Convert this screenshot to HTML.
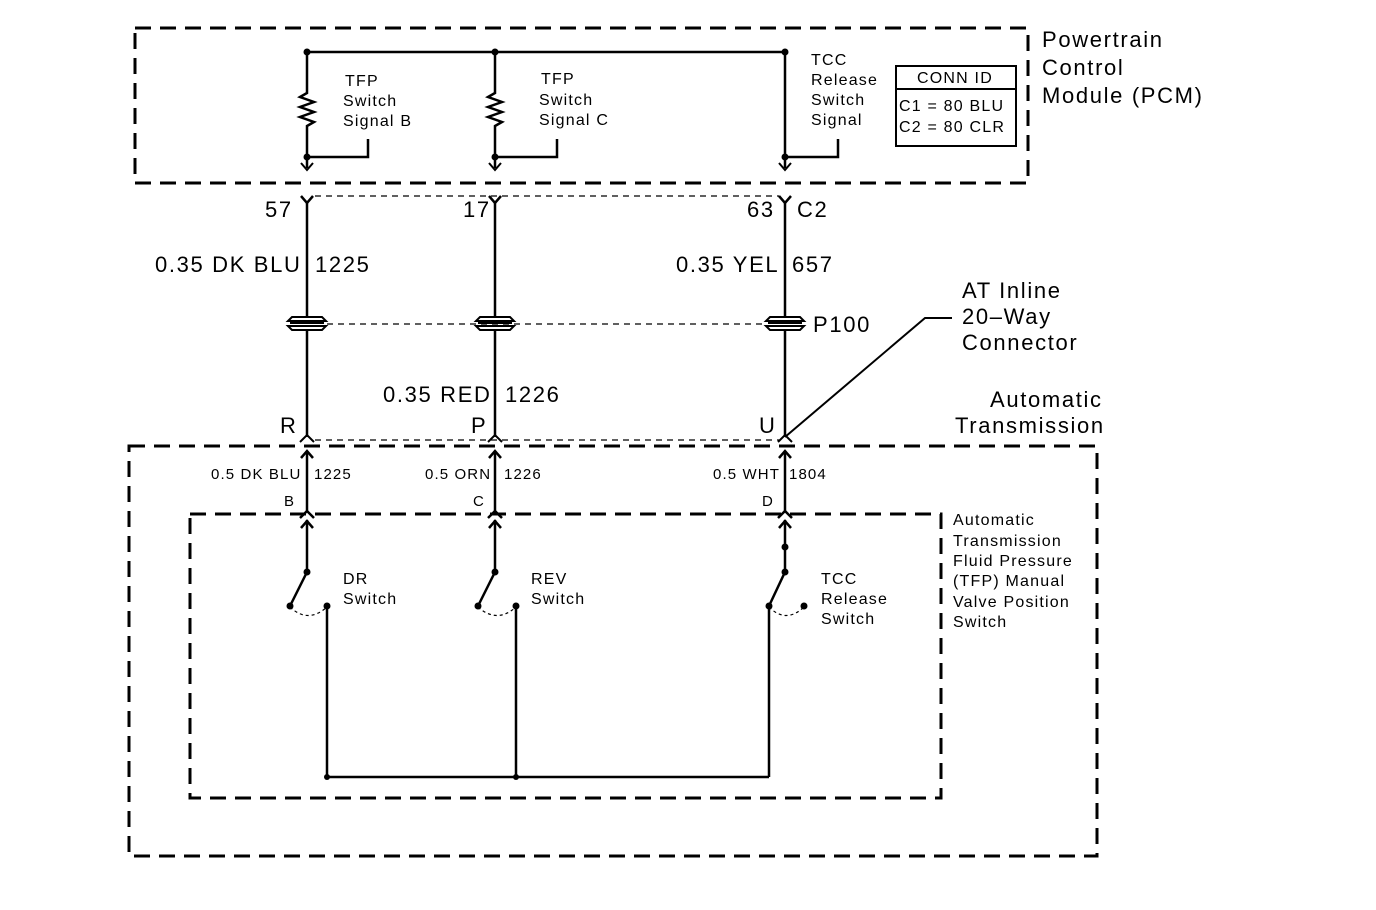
<!DOCTYPE html>
<html><head><meta charset="utf-8"><style>
html,body{margin:0;padding:0;background:#fff;}
svg{display:block;}
text{font-family:"Liberation Sans",Arial,sans-serif;fill:#000;letter-spacing:0.075em;}
</style></head><body>
<svg width="1376" height="910" viewBox="0 0 1376 910" xmlns="http://www.w3.org/2000/svg">
<defs>
<g id="inl">
 <path d="M-19,-3 L-15,-7 L15,-7 L19,-3 Z" fill="none" stroke="#000" stroke-width="2"/>
 <path d="M-19,2 L-15,6 L15,6 L19,2 Z" fill="none" stroke="#000" stroke-width="2"/>
 <line x1="-17" y1="-1" x2="17" y2="-1" stroke="#000" stroke-width="2"/>
</g>
</defs>
<g stroke="#000" fill="none">
<rect x="135" y="28" width="893" height="155" stroke-width="3" stroke-dasharray="16,9"/>
<rect x="129" y="446" width="968" height="410" stroke-width="3" stroke-dasharray="16,9"/>
<rect x="190" y="514" width="751" height="284" stroke-width="3" stroke-dasharray="16,9"/>
<rect x="896" y="66" width="120" height="80" stroke-width="2"/>
<line x1="896" y1="89" x2="1016" y2="89" stroke-width="2"/>

<g stroke-width="2.5">
<line x1="307" y1="52" x2="785" y2="52"/>
<polyline points="307,52 307,93 300,97 314,102 300,107 314,112 300,117 314,122 307,126 307,168"/>
<polyline points="307,157 368,157 368,139"/>
<polyline points="495,52 495,93 488,97 502,102 488,107 502,112 488,117 502,122 495,126 495,168"/>
<polyline points="495,157 557,157 557,139"/>
<line x1="785" y1="52" x2="785" y2="168"/>
<polyline points="785,157 838,157 838,139"/>
</g>
<g stroke-width="2">
<polyline points="301,163 307,170 313,163"/>
<polyline points="489,163 495,170 501,163"/>
<polyline points="779,163 785,170 791,163"/>
</g>
<g stroke-width="2.5">
<polyline points="301,196 307,203 313,196"/>
<polyline points="489,196 495,203 501,196"/>
<polyline points="779,196 785,203 791,196"/>
<line x1="307" y1="203" x2="307" y2="317"/>
<line x1="495" y1="203" x2="495" y2="317"/>
<line x1="785" y1="203" x2="785" y2="317"/>
<line x1="307" y1="330" x2="307" y2="437"/>
<line x1="495" y1="330" x2="495" y2="437"/>
<line x1="785" y1="330" x2="785" y2="437"/>
</g>
<line x1="315" y1="196" x2="779" y2="196" stroke-width="1.2" stroke-dasharray="6,5"/>
<line x1="327" y1="324" x2="767" y2="324" stroke-width="1.2" stroke-dasharray="6,5"/>
<line x1="315" y1="440" x2="779" y2="440" stroke-width="1.2" stroke-dasharray="6,5"/>
<g stroke-width="2">
<polyline points="300,442 307,435 314,442"/>
<polyline points="488,442 495,435 502,442"/>
<polyline points="778,442 785,435 792,442"/>
</g>
<polyline points="785,437 925,318 952,318" stroke-width="2"/>
<g stroke-width="2.5">
<line x1="307" y1="452" x2="307" y2="512"/>
<line x1="495" y1="452" x2="495" y2="512"/>
<line x1="785" y1="452" x2="785" y2="512"/>
<polyline points="301,458 307,451 313,458"/>
<polyline points="489,458 495,451 501,458"/>
<polyline points="779,458 785,451 791,458"/>
<polyline points="300,518 307,511 314,518"/>
<polyline points="488,518 495,511 502,518"/>
<polyline points="778,518 785,511 792,518"/>
<line x1="307" y1="520" x2="307" y2="572"/>
<line x1="495" y1="520" x2="495" y2="572"/>
<line x1="785" y1="520" x2="785" y2="572"/>
<polyline points="301,528 307,521 313,528"/>
<polyline points="489,528 495,521 501,528"/>
<polyline points="779,528 785,521 791,528"/>
<line x1="307" y1="572" x2="290" y2="606"/>
<line x1="495" y1="572" x2="478" y2="606"/>
<line x1="785" y1="572" x2="769" y2="606"/>
<line x1="327" y1="606" x2="327" y2="777"/>
<line x1="516" y1="606" x2="516" y2="777"/>
<line x1="769" y1="606" x2="769" y2="777"/>
<line x1="327" y1="777" x2="769" y2="777"/>
</g>
<g stroke-width="1.2" stroke-dasharray="3,3">
<path d="M290,607 Q308,624 327,607"/>
<path d="M478,607 Q497,624 516,607"/>
<path d="M769,607 Q786,624 804,607"/>
</g>
</g>
<use href="#inl" x="307" y="324"/>
<use href="#inl" x="495" y="324"/>
<use href="#inl" x="785" y="324"/>
<g fill="#000">
<circle cx="307" cy="52" r="3.5"/><circle cx="495" cy="52" r="3.5"/><circle cx="785" cy="52" r="3.5"/>
<circle cx="307" cy="157" r="3.5"/><circle cx="495" cy="157" r="3.5"/><circle cx="785" cy="157" r="3.5"/>
<circle cx="307" cy="572" r="3.5"/><circle cx="495" cy="572" r="3.5"/><circle cx="785" cy="572" r="3.5"/><circle cx="785" cy="547" r="3.5"/>
<circle cx="290" cy="606" r="3.5"/><circle cx="478" cy="606" r="3.5"/><circle cx="769" cy="606" r="3.5"/>
<circle cx="327" cy="606" r="3.5"/><circle cx="516" cy="606" r="3.5"/><circle cx="804" cy="606" r="3.5"/>
<circle cx="327" cy="777" r="3"/><circle cx="516" cy="777" r="3"/>
</g>
<g font-size="16">
<text x="345" y="86">TFP</text><text x="343" y="106">Switch</text><text x="343" y="126">Signal B</text>
<text x="541" y="84">TFP</text><text x="539" y="105">Switch</text><text x="539" y="125">Signal C</text>
<text x="811" y="65">TCC</text><text x="811" y="85">Release</text><text x="811" y="105">Switch</text><text x="811" y="125">Signal</text>
<text x="343" y="584">DR</text><text x="343" y="604">Switch</text>
<text x="531" y="584">REV</text><text x="531" y="604">Switch</text>
<text x="821" y="584">TCC</text><text x="821" y="604">Release</text><text x="821" y="624">Switch</text>
<text x="953" y="525">Automatic</text><text x="953" y="546">Transmission</text><text x="953" y="566">Fluid Pressure</text><text x="953" y="586">(TFP) Manual</text><text x="953" y="607">Valve Position</text><text x="953" y="627">Switch</text>
<text x="917" y="83">CONN ID</text>
<text x="899" y="111">C1 = 80 BLU</text><text x="899" y="132">C2 = 80 CLR</text>
</g>
<g font-size="15">
<text x="211" y="479">0.5 DK BLU</text><text x="314" y="479">1225</text>
<text x="425" y="479">0.5 ORN</text><text x="504" y="479">1226</text>
<text x="713" y="479">0.5 WHT</text><text x="789" y="479">1804</text>
<text x="284" y="506">B</text><text x="473" y="506">C</text><text x="762" y="506">D</text>
</g>
<g font-size="22">
<text x="1042" y="47">Powertrain</text><text x="1042" y="75">Control</text><text x="1042" y="103">Module (PCM)</text>
<text x="265" y="217">57</text>
<text x="463" y="217">17</text>
<text x="747" y="217">63</text><text x="797" y="217">C2</text>
<text x="155" y="272">0.35 DK BLU</text><text x="315" y="272">1225</text>
<text x="676" y="272">0.35 YEL</text><text x="792" y="272">657</text>
<text x="813" y="332">P100</text>
<text x="383" y="402">0.35 RED</text><text x="505" y="402">1226</text>
<text x="962" y="298">AT Inline</text><text x="962" y="324">20–Way</text><text x="962" y="350">Connector</text>
<text x="990" y="407">Automatic</text><text x="955" y="433">Transmission</text>
<text x="280" y="433">R</text><text x="471" y="433">P</text><text x="759" y="433">U</text>
</g>
</svg>
</body></html>
